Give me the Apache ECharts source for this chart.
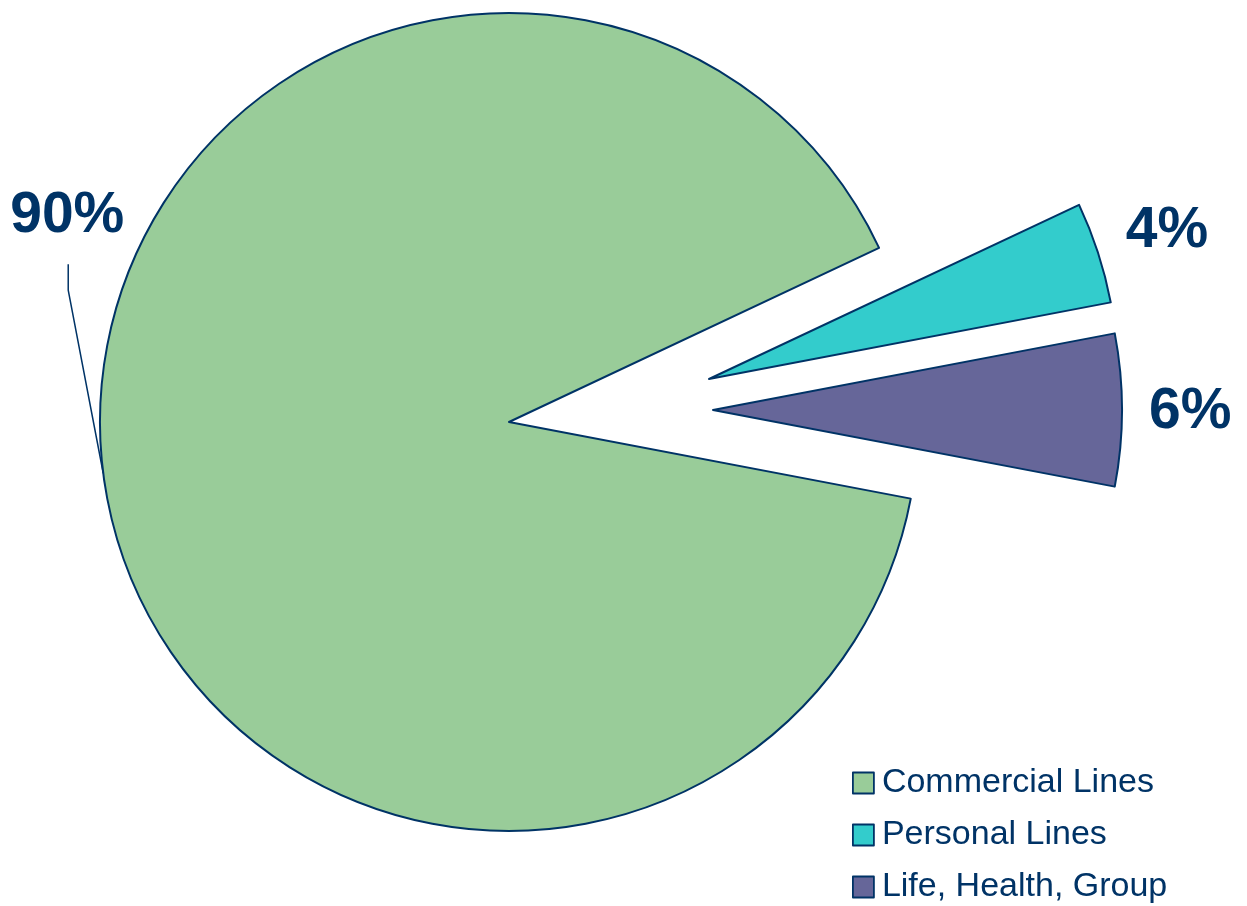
<!DOCTYPE html>
<html>
<head>
<meta charset="utf-8">
<script src="https://cdn.jsdelivr.net/npm/echarts@6/dist/echarts.min.js"></script>
<style>
  html, body { margin: 0; padding: 0; background: #ffffff; }
  #chart { width: 1247px; height: 906px; }
</style>
</head>
<body>
<div id="chart"></div>
<script>
// ---- data ----
const categories = ['Commercial Lines', 'Personal Lines', 'Life, Health, Group'];
const shares = [90, 4, 6];
const sliceColors = ['#99CC99', '#33CCCC', '#666699'];

// ---- style / layout ----
const NAVY = '#003366';
const FONT = '"Liberation Sans", Arial, Helvetica, sans-serif';
const RADIUS = 409;
const START_ANGLE = -10.8;
// each slice drawn in its own pie so the two small ones can be pulled out
const centers = [[509, 422], [709, 379], [713, 410]];

function sliceData(visibleIndex) {
  return categories.map(function (name, i) {
    if (i === visibleIndex) {
      return { name: name, value: shares[i], itemStyle: { color: sliceColors[i] } };
    }
    return {
      name: name, value: shares[i],
      itemStyle: { color: 'rgba(0,0,0,0)', borderWidth: 0 },
      label: { show: false }, labelLine: { show: false }
    };
  });
}

function labelLayoutFor(seriesIdx) {
  return function (p) {
    if (seriesIdx === 0) {
      const pts = p.labelLinePoints;
      if (!pts) return {};
      const a = pts[0];
      return {
        x: a[0] - 36, y: a[1] - 257, align: 'center', verticalAlign: 'middle',
        labelLinePoints: [[a[0], a[1]], [a[0] - 35, a[1] - 183], [a[0] - 35, a[1] - 209]]
      };
    }
    const r = p.rect;
    if (seriesIdx === 1) {
      return { x: r.x + r.width + 14, y: r.y + 27, align: 'left', verticalAlign: 'middle' };
    }
    return { x: r.x + r.width + 26, y: r.y + r.height / 2 + 2, align: 'left', verticalAlign: 'middle' };
  };
}

const series = centers.map(function (c, s) {
  return {
    type: 'pie',
    center: c,
    radius: RADIUS,
    startAngle: START_ANGLE,
    clockwise: true,
    avoidLabelOverlap: false,
    silent: true,
    animation: false,
    emphasis: { disabled: true },
    itemStyle: { borderColor: NAVY, borderWidth: 2 },
    label: {
      show: true,
      position: 'outside',
      formatter: '{d}%',
      color: NAVY,
      fontFamily: FONT,
      fontWeight: 'bold',
      fontSize: 57
    },
    labelLine: {
      show: s === 0,
      length: 10,
      length2: 10,
      smooth: false,
      lineStyle: { color: NAVY, width: 1.5 }
    },
    labelLayout: labelLayoutFor(s),
    data: sliceData(s)
  };
});

const chart = echarts.init(document.getElementById('chart'), null, { renderer: 'canvas' });
chart.setOption({
  backgroundColor: '#ffffff',
  animation: false,
  legend: {
    orient: 'vertical',
    left: 852,
    top: 766,
    height: 220,
    padding: 0,
    icon: 'rect',
    itemWidth: 21,
    itemHeight: 21,
    itemGap: 18,
    selectedMode: false,
    textStyle: { color: NAVY, fontFamily: FONT, fontSize: 34, lineHeight: 34, padding: [0, 0, 0, 3] },
    data: categories.map(function (name, i) {
      return { name: name, itemStyle: { color: sliceColors[i], borderColor: NAVY, borderWidth: 1.8 } };
    })
  },
  series: series
});
</script>
</body>
</html>
